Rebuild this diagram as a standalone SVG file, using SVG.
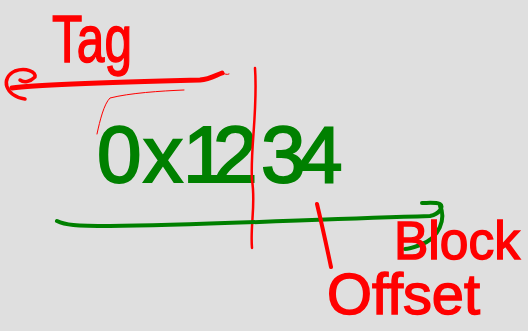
<svg xmlns="http://www.w3.org/2000/svg" width="528" height="331" viewBox="0 0 528 331">
<style>
.r{fill:none;stroke:#ff0000;stroke-linecap:round;stroke-linejoin:round}
.g{fill:none;stroke:#008000;stroke-linecap:round;stroke-linejoin:round}
.tr{fill:#ff0000;font-family:"Liberation Sans Narrow","Liberation Sans",sans-serif;stroke:#ff0000;stroke-width:1.5}
.tg{fill:#008000;font-family:"Liberation Sans Narrow","Liberation Sans",sans-serif;stroke:#008000;stroke-width:2}
</style>
<rect width="528" height="331" fill="#dfdfdf"/>
<g id="tag">
<text class="tr" x="52" y="62" font-size="66" textLength="80" lengthAdjust="spacingAndGlyphs">Tag</text>
<path class="r" stroke-width="5" d="M12,88 C40,84 120,82 200,80 C210,79 216,75 222,73"/>
<path class="r" stroke-width="3.5" d="M25,99 C5,96 0,78 15,71 C26,67 36,72 35,77 C30,82 24,83 20,80"/>
<path class="r" stroke-width="1" d="M222,73 C225,74 227,75 229,74"/>
</g>
<g id="bracket">
<path class="r" stroke-width="1" stroke="#ff6666" d="M97,134 C100,120 104,104 110,98 C130,93 160,91 184,90"/>
</g>
<g id="value">
<text class="tg" x="97 143 183 213 261 298" y="182" font-size="80">0x1234</text>
</g>
<g id="connectors">
<path class="r" stroke-width="2.5" d="M255,68 C258,110 250,150 252,180 C256,205 250,225 252,248"/>
<path class="g" stroke-width="4" d="M57,221 C65,225 75,226 110,226 C200,225 300,220 430,216 C440,214 444,206 440,204 C435,202 428,203 422,203"/>
<path class="g" stroke-width="4" d="M440,206 C446,218 440,238 420,245 C412,248 408,249 405,249"/>
<path class="r" stroke-width="4" d="M317,204 C322,225 327,248 331,267"/>
</g>
<g id="block-offset">
<text class="tr" x="394" y="259" font-size="54" textLength="126" lengthAdjust="spacingAndGlyphs">Block</text>
<text class="tr" x="327" y="314" font-size="58" textLength="153" lengthAdjust="spacingAndGlyphs">Offset</text>
</g>
</svg>
